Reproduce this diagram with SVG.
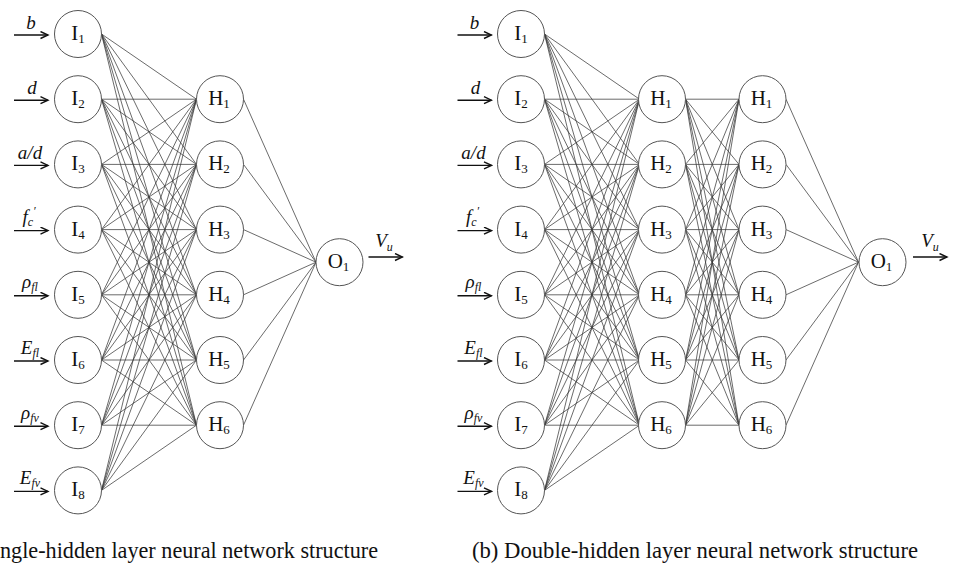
<svg xmlns="http://www.w3.org/2000/svg" xmlns:xlink="http://www.w3.org/1999/xlink" width="954" height="570" viewBox="0 0 954 570" font-family="'Liberation Serif', 'Times New Roman', serif">
<style>
.n{fill:#fff;stroke:#555;stroke-width:1}
.c{fill:none;stroke:#3a3a3a;stroke-width:0.75}
.a{fill:none;stroke:#111;stroke-width:1.4}
.t{font-family:'Liberation Serif',serif;font-size:21px;fill:#111;text-anchor:middle}
.l{font-family:'Liberation Serif',serif;font-size:19px;font-style:italic;fill:#111;text-anchor:middle}
.s{font-size:13px}
.ls{font-size:12px}
.cap{font-family:'Liberation Serif',serif;font-size:23px;fill:#111}
</style>
<defs>
<marker id="ah" markerWidth="10" markerHeight="10" refX="8.5" refY="4" orient="auto" markerUnits="userSpaceOnUse">
<path d="M1,0.5 L8.5,4 L1,7.5" fill="none" stroke="#111" stroke-width="1.4"/>
</marker>
<path id="fanIH" class="c" d="M101.5 34L196.5 99.2M101.5 34L196.5 164.4M101.5 34L196.5 229.6M101.5 34L196.5 294.8M101.5 34L196.5 360M101.5 34L196.5 425.2
M101.5 99.2L196.5 99.2M101.5 99.2L196.5 164.4M101.5 99.2L196.5 229.6M101.5 99.2L196.5 294.8M101.5 99.2L196.5 360M101.5 99.2L196.5 425.2
M101.5 164.4L196.5 99.2M101.5 164.4L196.5 164.4M101.5 164.4L196.5 229.6M101.5 164.4L196.5 294.8M101.5 164.4L196.5 360M101.5 164.4L196.5 425.2
M101.5 229.6L196.5 99.2M101.5 229.6L196.5 164.4M101.5 229.6L196.5 229.6M101.5 229.6L196.5 294.8M101.5 229.6L196.5 360M101.5 229.6L196.5 425.2
M101.5 294.8L196.5 99.2M101.5 294.8L196.5 164.4M101.5 294.8L196.5 229.6M101.5 294.8L196.5 294.8M101.5 294.8L196.5 360M101.5 294.8L196.5 425.2
M101.5 360L196.5 99.2M101.5 360L196.5 164.4M101.5 360L196.5 229.6M101.5 360L196.5 294.8M101.5 360L196.5 360M101.5 360L196.5 425.2
M101.5 425.2L196.5 99.2M101.5 425.2L196.5 164.4M101.5 425.2L196.5 229.6M101.5 425.2L196.5 294.8M101.5 425.2L196.5 360M101.5 425.2L196.5 425.2
M101.5 490.4L196.5 99.2M101.5 490.4L196.5 164.4M101.5 490.4L196.5 229.6M101.5 490.4L196.5 294.8M101.5 490.4L196.5 360M101.5 490.4L196.5 425.2"/>
<path id="fanHO" class="c" d="M243.5 99.2L316 262.2M243.5 164.4L316 262.2M243.5 229.6L316 262.2M243.5 294.8L316 262.2M243.5 360L316 262.2M243.5 425.2L316 262.2"/>
<path id="arr" class="a" marker-end="url(#ah)" d="M0 0H34"/>
</defs>
<g id="connectors">
<use xlink:href="#fanIH"/>
<use xlink:href="#fanHO"/>
<use xlink:href="#fanIH" transform="translate(443,0)"/>
<path class="c" d="M685.5 99.2L739 99.2M685.5 99.2L739 164.4M685.5 99.2L739 229.6M685.5 99.2L739 294.8M685.5 99.2L739 360M685.5 99.2L739 425.2
M685.5 164.4L739 99.2M685.5 164.4L739 164.4M685.5 164.4L739 229.6M685.5 164.4L739 294.8M685.5 164.4L739 360M685.5 164.4L739 425.2
M685.5 229.6L739 99.2M685.5 229.6L739 164.4M685.5 229.6L739 229.6M685.5 229.6L739 294.8M685.5 229.6L739 360M685.5 229.6L739 425.2
M685.5 294.8L739 99.2M685.5 294.8L739 164.4M685.5 294.8L739 229.6M685.5 294.8L739 294.8M685.5 294.8L739 360M685.5 294.8L739 425.2
M685.5 360L739 99.2M685.5 360L739 164.4M685.5 360L739 229.6M685.5 360L739 294.8M685.5 360L739 360M685.5 360L739 425.2
M685.5 425.2L739 99.2M685.5 425.2L739 164.4M685.5 425.2L739 229.6M685.5 425.2L739 294.8M685.5 425.2L739 360M685.5 425.2L739 425.2"/>
<use xlink:href="#fanHO" transform="translate(542.5,0)"/>
<use xlink:href="#arr" x="14" y="35"/>
<use xlink:href="#arr" x="14" y="100.2"/>
<use xlink:href="#arr" x="14" y="165.4"/>
<use xlink:href="#arr" x="14" y="230.6"/>
<use xlink:href="#arr" x="14" y="295.8"/>
<use xlink:href="#arr" x="14" y="361"/>
<use xlink:href="#arr" x="14" y="426.2"/>
<use xlink:href="#arr" x="14" y="491.4"/>
<use xlink:href="#arr" x="368.5" y="257"/>
<use xlink:href="#arr" x="457.5" y="35"/>
<use xlink:href="#arr" x="457.5" y="100.2"/>
<use xlink:href="#arr" x="457.5" y="165.4"/>
<use xlink:href="#arr" x="457.5" y="230.6"/>
<use xlink:href="#arr" x="457.5" y="295.8"/>
<use xlink:href="#arr" x="457.5" y="361"/>
<use xlink:href="#arr" x="457.5" y="426.2"/>
<use xlink:href="#arr" x="457.5" y="491.4"/>
<use xlink:href="#arr" x="913" y="257"/>
</g>
<g id="input-labels-a">
<text class="l" x="31" y="29">b</text>
<text class="l" x="32" y="94">d</text>
<text class="l" x="30" y="159">a/d</text>
<text class="l" x="29" y="223">f<tspan class="ls" dy="3">c</tspan><tspan class="ls" dy="-11">′</tspan></text>
<text class="l" x="30" y="288">ρ<tspan class="ls" dy="3">fl</tspan></text>
<text class="l" x="30" y="354">E<tspan class="ls" dy="3">fl</tspan></text>
<text class="l" x="30" y="419">ρ<tspan class="ls" dy="3">fv</tspan></text>
<text class="l" x="30" y="484">E<tspan class="ls" dy="3">fv</tspan></text>
<text class="l" x="384" y="247">V<tspan class="ls" dy="4">u</tspan></text>
</g>
<g id="input-labels-b">
<text class="l" x="474.5" y="29">b</text>
<text class="l" x="475.5" y="94">d</text>
<text class="l" x="473.5" y="159">a/d</text>
<text class="l" x="472.5" y="223">f<tspan class="ls" dy="3">c</tspan><tspan class="ls" dy="-11">′</tspan></text>
<text class="l" x="473.5" y="288">ρ<tspan class="ls" dy="3">fl</tspan></text>
<text class="l" x="473.5" y="354">E<tspan class="ls" dy="3">fl</tspan></text>
<text class="l" x="473.5" y="419">ρ<tspan class="ls" dy="3">fv</tspan></text>
<text class="l" x="473.5" y="484">E<tspan class="ls" dy="3">fv</tspan></text>
<text class="l" x="930" y="247">V<tspan class="ls" dy="4">u</tspan></text>
</g>
<g id="a-I1"><circle class="n" cx="78" cy="34" r="23.5"/><text class="t" x="78" y="40">I<tspan class="s" dy="3">1</tspan></text></g>
<g id="a-I2"><circle class="n" cx="78" cy="99.2" r="23.5"/><text class="t" x="78" y="105.2">I<tspan class="s" dy="3">2</tspan></text></g>
<g id="a-I3"><circle class="n" cx="78" cy="164.4" r="23.5"/><text class="t" x="78" y="170.4">I<tspan class="s" dy="3">3</tspan></text></g>
<g id="a-I4"><circle class="n" cx="78" cy="229.6" r="23.5"/><text class="t" x="78" y="235.6">I<tspan class="s" dy="3">4</tspan></text></g>
<g id="a-I5"><circle class="n" cx="78" cy="294.8" r="23.5"/><text class="t" x="78" y="300.8">I<tspan class="s" dy="3">5</tspan></text></g>
<g id="a-I6"><circle class="n" cx="78" cy="360" r="23.5"/><text class="t" x="78" y="366">I<tspan class="s" dy="3">6</tspan></text></g>
<g id="a-I7"><circle class="n" cx="78" cy="425.2" r="23.5"/><text class="t" x="78" y="431.2">I<tspan class="s" dy="3">7</tspan></text></g>
<g id="a-I8"><circle class="n" cx="78" cy="490.4" r="23.5"/><text class="t" x="78" y="496.4">I<tspan class="s" dy="3">8</tspan></text></g>
<g id="a-H1"><circle class="n" cx="220" cy="99.2" r="23.5"/><text class="t" x="219" y="105.2">H<tspan class="s" dy="3">1</tspan></text></g>
<g id="a-H2"><circle class="n" cx="220" cy="164.4" r="23.5"/><text class="t" x="219" y="170.4">H<tspan class="s" dy="3">2</tspan></text></g>
<g id="a-H3"><circle class="n" cx="220" cy="229.6" r="23.5"/><text class="t" x="219" y="235.6">H<tspan class="s" dy="3">3</tspan></text></g>
<g id="a-H4"><circle class="n" cx="220" cy="294.8" r="23.5"/><text class="t" x="219" y="300.8">H<tspan class="s" dy="3">4</tspan></text></g>
<g id="a-H5"><circle class="n" cx="220" cy="360" r="23.5"/><text class="t" x="219" y="366">H<tspan class="s" dy="3">5</tspan></text></g>
<g id="a-H6"><circle class="n" cx="220" cy="425.2" r="23.5"/><text class="t" x="219" y="431.2">H<tspan class="s" dy="3">6</tspan></text></g>
<g id="a-O1"><circle class="n" cx="339.5" cy="262.2" r="23.5"/><text class="t" x="338.5" y="268.2">O<tspan class="s" dy="3">1</tspan></text></g>
<g id="b-I1"><circle class="n" cx="521" cy="34" r="23.5"/><text class="t" x="521" y="40">I<tspan class="s" dy="3">1</tspan></text></g>
<g id="b-I2"><circle class="n" cx="521" cy="99.2" r="23.5"/><text class="t" x="521" y="105.2">I<tspan class="s" dy="3">2</tspan></text></g>
<g id="b-I3"><circle class="n" cx="521" cy="164.4" r="23.5"/><text class="t" x="521" y="170.4">I<tspan class="s" dy="3">3</tspan></text></g>
<g id="b-I4"><circle class="n" cx="521" cy="229.6" r="23.5"/><text class="t" x="521" y="235.6">I<tspan class="s" dy="3">4</tspan></text></g>
<g id="b-I5"><circle class="n" cx="521" cy="294.8" r="23.5"/><text class="t" x="521" y="300.8">I<tspan class="s" dy="3">5</tspan></text></g>
<g id="b-I6"><circle class="n" cx="521" cy="360" r="23.5"/><text class="t" x="521" y="366">I<tspan class="s" dy="3">6</tspan></text></g>
<g id="b-I7"><circle class="n" cx="521" cy="425.2" r="23.5"/><text class="t" x="521" y="431.2">I<tspan class="s" dy="3">7</tspan></text></g>
<g id="b-I8"><circle class="n" cx="521" cy="490.4" r="23.5"/><text class="t" x="521" y="496.4">I<tspan class="s" dy="3">8</tspan></text></g>
<g id="b-H1-1"><circle class="n" cx="662" cy="99.2" r="23.5"/><text class="t" x="661" y="105.2">H<tspan class="s" dy="3">1</tspan></text></g>
<g id="b-H1-2"><circle class="n" cx="662" cy="164.4" r="23.5"/><text class="t" x="661" y="170.4">H<tspan class="s" dy="3">2</tspan></text></g>
<g id="b-H1-3"><circle class="n" cx="662" cy="229.6" r="23.5"/><text class="t" x="661" y="235.6">H<tspan class="s" dy="3">3</tspan></text></g>
<g id="b-H1-4"><circle class="n" cx="662" cy="294.8" r="23.5"/><text class="t" x="661" y="300.8">H<tspan class="s" dy="3">4</tspan></text></g>
<g id="b-H1-5"><circle class="n" cx="662" cy="360" r="23.5"/><text class="t" x="661" y="366">H<tspan class="s" dy="3">5</tspan></text></g>
<g id="b-H1-6"><circle class="n" cx="662" cy="425.2" r="23.5"/><text class="t" x="661" y="431.2">H<tspan class="s" dy="3">6</tspan></text></g>
<g id="b-H2-1"><circle class="n" cx="762.5" cy="99.2" r="23.5"/><text class="t" x="761.5" y="105.2">H<tspan class="s" dy="3">1</tspan></text></g>
<g id="b-H2-2"><circle class="n" cx="762.5" cy="164.4" r="23.5"/><text class="t" x="761.5" y="170.4">H<tspan class="s" dy="3">2</tspan></text></g>
<g id="b-H2-3"><circle class="n" cx="762.5" cy="229.6" r="23.5"/><text class="t" x="761.5" y="235.6">H<tspan class="s" dy="3">3</tspan></text></g>
<g id="b-H2-4"><circle class="n" cx="762.5" cy="294.8" r="23.5"/><text class="t" x="761.5" y="300.8">H<tspan class="s" dy="3">4</tspan></text></g>
<g id="b-H2-5"><circle class="n" cx="762.5" cy="360" r="23.5"/><text class="t" x="761.5" y="366">H<tspan class="s" dy="3">5</tspan></text></g>
<g id="b-H2-6"><circle class="n" cx="762.5" cy="425.2" r="23.5"/><text class="t" x="761.5" y="431.2">H<tspan class="s" dy="3">6</tspan></text></g>
<g id="b-O1"><circle class="n" cx="882.5" cy="262.2" r="23.5"/><text class="t" x="881.5" y="268.2">O<tspan class="s" dy="3">1</tspan></text></g>
<g id="captions">
<text class="cap" x="0" y="558" textLength="378" lengthAdjust="spacingAndGlyphs">ngle-hidden layer neural network structure</text>
<text class="cap" x="472" y="558" textLength="446" lengthAdjust="spacingAndGlyphs">(b) Double-hidden layer neural network structure</text>
</g>
</svg>
